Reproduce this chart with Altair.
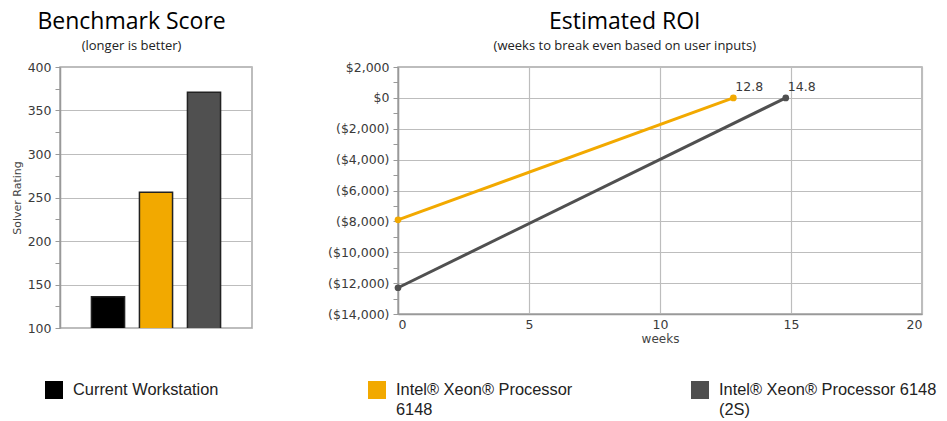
import altair as alt
import pandas as pd

# Benchmark scores per system
systems = [
    "Current Workstation",
    "Intel® Xeon® Processor 6148",
    "Intel® Xeon® Processor 6148 (2S)",
]
legend_labels = [
    "Current Workstation",
    "Intel® Xeon® Processor\n6148",
    "Intel® Xeon® Processor 6148\n(2S)",
]
solver_rating = [136, 256, 371]
system_colors = ["#000000", "#F2A900", "#505050"]

# Return on investment: starting cost at week 0 and break-even week
roi_systems = systems[1:]
initial_cost = [-7900, -12300]
breakeven_weeks = [12.8, 14.8]

rating_ticks = list(range(100, 401, 25))
money_ticks = list(range(-14000, 2001, 1000))
week_ticks = [0, 5, 10, 15, 20]

LABEL_FONT = "DejaVu Sans"
TITLE_FONT = "Open Sans"
GRID = "#bdbdbd"
FRAME = "#a8a8a8"

color_scale = alt.Scale(domain=systems, range=system_colors)


def chart_title(text, sub):
    return alt.TitleParams(
        text,
        subtitle=sub,
        font=TITLE_FONT,
        fontSize=23,
        fontWeight="normal",
        color="#000000",
        subtitleFont=TITLE_FONT,
        subtitleFontSize=13,
        subtitleColor="#222222",
        subtitlePadding=6,
        anchor="middle",
        frame="bounds",
        offset=8,
    )


# ---- Benchmark bar chart ----
bar_df = pd.DataFrame({"system": systems, "rating": solver_rating})

bars = (
    alt.Chart(bar_df)
    .mark_bar(stroke="#222222", strokeWidth=1.5, clip=True)
    .encode(
        x=alt.X(
            "system:N",
            sort=systems,
            axis=None,
            scale=alt.Scale(paddingInner=0.31, paddingOuter=0.655),
        ),
        y=alt.Y(
            "rating:Q",
            scale=alt.Scale(domain=[100, 400], nice=False, zero=False),
            axis=alt.Axis(
                values=rating_ticks,
                title="Solver Rating",
                titleFontSize=11,
                titlePadding=5,
                labelExpr="datum.value % 50 == 0 ? datum.label : ''",
                gridOpacity=alt.condition(
                    "datum.value % 50 == 0", alt.value(1), alt.value(0)
                ),
                tickSize=5,
                labelPadding=4,
            ),
        ),
        color=alt.Color("system:N", scale=color_scale, legend=None),
    )
    .properties(
        width=192,
        height=261,
        title=chart_title("Benchmark Score", "(longer is better)"),
        view=alt.ViewBackground(stroke=FRAME, strokeWidth=1.5),
    )
)

# ---- ROI line chart ----
rows = []
for name, cost, weeks in zip(roi_systems, initial_cost, breakeven_weeks):
    rows.append({"system": name, "weeks": 0.0, "value": cost, "end": False})
    rows.append({"system": name, "weeks": weeks, "value": 0, "end": True})
roi_df = pd.DataFrame(rows)

x_enc = alt.X(
    "weeks:Q",
    scale=alt.Scale(domain=[0, 20], nice=False),
    axis=alt.Axis(
        values=week_ticks,
        title="weeks",
        titleFontSize=12,
        titlePadding=3,
        ticks=False,
        labelPadding=4,
    ),
)
y_enc = alt.Y(
    "value:Q",
    scale=alt.Scale(domain=[-14000, 2000], nice=False),
    axis=alt.Axis(
        values=money_ticks,
        title=None,
        labelExpr=(
            "datum.value % 2000 != 0 ? '' : "
            "datum.value < 0 ? '(' + format(-datum.value, '$,') + ')' : "
            "format(datum.value, '$,')"
        ),
        gridOpacity=alt.condition(
            "datum.value % 2000 == 0", alt.value(1), alt.value(0)
        ),
        tickSize=5,
        labelPadding=4,
    ),
)
line_color = alt.Color("system:N", scale=color_scale, legend=None)

roi_base = alt.Chart(roi_df).encode(x=x_enc, y=y_enc, color=line_color)
roi_lines = roi_base.mark_line(strokeWidth=3)
roi_points = roi_base.mark_circle(size=45, opacity=1)
roi_labels = (
    roi_base.transform_filter("datum.end")
    .mark_text(
        align="left",
        baseline="middle",
        dx=2,
        dy=-11,
        font=LABEL_FONT,
        fontSize=12.5,
        color="#3a3a3a",
    )
    .encode(text=alt.Text("weeks:Q", format=".1f"), color=alt.value("#3a3a3a"))
)

roi = alt.layer(roi_lines, roi_points, roi_labels).properties(
    width=524,
    height=247,
    title=chart_title("Estimated ROI", "(weeks to break even based on user inputs)"),
    view=alt.ViewBackground(stroke=FRAME, strokeWidth=1.5),
)

# ---- Shared legend row (its origin lines up with the bar plot's left edge) ----
legend_df = pd.DataFrame({"system": systems, "label": legend_labels})
legend_x = alt.X(
    "system:N", sort=systems, axis=None, scale=alt.Scale(type="point", padding=0)
)
legend_squares = (
    alt.Chart(legend_df)
    .mark_square(size=324, opacity=1, filled=True, xOffset=-6)
    .encode(x=legend_x, y=alt.value(9), color=alt.Color("system:N", scale=color_scale, legend=None))
)
legend_text = (
    alt.Chart(legend_df)
    .mark_text(
        align="left",
        baseline="alphabetic",
        dx=13,
        font="Liberation Sans",
        fontSize=16.4,
        lineBreak="\n",
        lineHeight=20,
        color="#222222",
    )
    .encode(x=legend_x, y=alt.value(14), text="label:N")
)
legend = alt.layer(legend_squares, legend_text).properties(
    width=646, height=36, view=alt.ViewBackground(stroke=None)
)

chart = (
    alt.vconcat(alt.hconcat(bars, roi, spacing=73), legend, spacing=35)
    .properties(padding={"left": 10, "top": 10, "right": 0, "bottom": 0})
    .configure_axis(
        labelFont=LABEL_FONT,
        labelFontSize=12.5,
        labelColor="#3a3a3a",
        titleFont=LABEL_FONT,
        titleFontWeight="normal",
        titleColor="#444444",
        domainColor="#999999",
        domainWidth=1.5,
        tickColor="#999999",
        gridColor=GRID,
        gridWidth=1.2,
    )
)

chart.save("out.html", embed_options={"renderer": "svg", "actions": False})
